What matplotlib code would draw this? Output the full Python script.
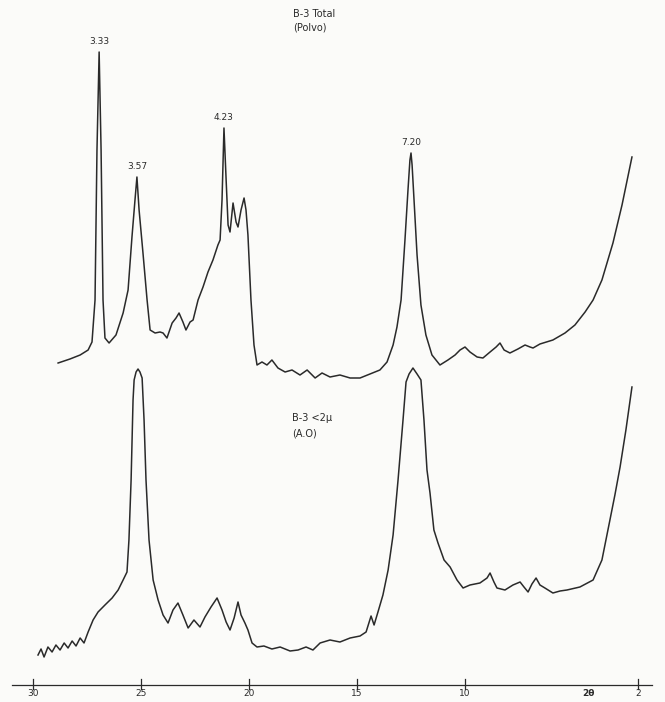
import matplotlib
matplotlib.use("Agg")
import matplotlib.pyplot as plt

# ---- Data: upper trace "B-3 Total (Polvo)" ----
top_2theta = [28.84, 28.29, 27.82, 27.45, 27.27, 27.13, 27.04, 26.94, 26.85, 26.76, 26.67, 26.48,
              26.16, 25.83, 25.60, 25.42, 25.28, 25.19, 25.09, 24.91, 24.72, 24.58, 24.35, 24.12,
              23.98, 23.80, 23.56, 23.38, 23.24, 23.06, 22.92, 22.73, 22.59, 22.36, 22.13, 21.90,
              21.67, 21.44, 21.34, 21.25, 21.16, 21.06, 20.97, 20.88, 20.74, 20.60, 20.51, 20.37,
              20.23, 20.14, 20.05, 19.91, 19.77, 19.63, 19.40, 19.17, 18.94, 18.66, 18.33, 18.01,
              17.64, 17.31, 16.94, 16.62, 16.25, 15.79, 15.32, 14.86, 14.40, 13.94, 13.61, 13.33,
              13.15, 12.96, 12.78, 12.64, 12.55, 12.50, 12.45, 12.36, 12.22, 12.04, 11.81, 11.53,
              11.16, 10.79, 10.46, 10.23, 10.00, 9.77, 9.44, 9.17, 8.84, 8.56, 8.38, 8.19,
              7.92, 7.55, 7.22, 6.99, 6.85, 6.53, 5.93, 5.37, 4.91, 4.44, 4.07, 3.66,
              3.15, 2.73, 2.27]
top_counts = [17, 21, 25, 30, 38, 80, 230, 328, 230, 80, 42, 37,
              45, 67, 90, 143, 180, 203, 170, 127, 80, 50, 47, 48,
              47, 42, 57, 62, 67, 58, 50, 58, 60, 80, 93, 108,
              120, 135, 140, 180, 252, 200, 155, 148, 177, 158, 153, 170,
              182, 170, 145, 80, 35, 15, 18, 15, 20, 12, 8, 10,
              5, 10, 2, 7, 3, 5, 2, 2, 6, 10, 18, 35,
              53, 80, 140, 190, 220, 227, 215, 180, 125, 75, 45, 25,
              15, 20, 25, 30, 33, 28, 23, 22, 28, 33, 37, 30,
              27, 31, 35, 33, 32, 36, 40, 47, 55, 68, 80, 100,
              137, 175, 223]

# ---- Data: lower trace "B-3 <2µ (A.O)" ----
bot_2theta = [29.77, 29.63, 29.49, 29.31, 29.12, 28.94, 28.75, 28.56, 28.38, 28.19, 28.01, 27.82,
              27.64, 27.45, 27.22, 26.99, 26.67, 26.34, 26.06, 25.83, 25.65, 25.56, 25.46, 25.37,
              25.32, 25.23, 25.14, 25.05, 24.95, 24.86, 24.77, 24.63, 24.44, 24.21, 23.98, 23.75,
              23.52, 23.29, 23.06, 22.82, 22.55, 22.27, 22.04, 21.76, 21.48, 21.25, 21.06, 20.88,
              20.69, 20.51, 20.37, 20.19, 20.05, 19.86, 19.63, 19.31, 18.94, 18.56, 18.10, 17.73,
              17.36, 17.04, 16.71, 16.25, 15.79, 15.32, 14.86, 14.58, 14.35, 14.21, 14.03, 13.80,
              13.56, 13.33, 13.10, 12.87, 12.73, 12.59, 12.41, 12.22, 12.04, 11.90, 11.76, 11.62,
              11.44, 11.25, 10.97, 10.69, 10.37, 10.09, 9.77, 9.31, 8.98, 8.84, 8.66, 8.52,
              8.15, 7.78, 7.45, 7.27, 7.08, 6.90, 6.71, 6.53, 6.30, 5.93, 5.60, 5.28,
              4.68, 4.07, 3.66, 3.29, 3.06, 2.82, 2.55, 2.27]
bot_counts = [5, 11, 3, 13, 8, 15, 10, 17, 12, 19, 14, 22,
              17, 28, 40, 48, 55, 62, 70, 80, 88, 120, 180, 260,
              280, 288, 291, 288, 282, 240, 180, 120, 80, 60, 45, 37,
              50, 57, 45, 32, 40, 33, 43, 53, 62, 50, 38, 30,
              42, 58, 45, 37, 30, 17, 13, 14, 11, 13, 9, 10,
              13, 10, 17, 20, 18, 22, 24, 28, 44, 35, 48, 65,
              90, 125, 180, 240, 278, 286, 292, 286, 280, 240, 190, 167,
              130, 117, 100, 93, 80, 72, 75, 77, 82, 87, 78, 72,
              70, 75, 78, 73, 68, 76, 82, 75, 72, 67, 69, 70,
              73, 80, 100, 140, 165, 193, 230, 273]

top_offset = 320
bot_offset = 40

top_peaks = [26.94, 25.19, 21.16, 12.50]
top_peak_labels = ["3.33", "3.57", "4.23", "7.20"]

tick_values = [30, 25, 20, 15, 10, 2]
tick_labels = ["30", "25", "20", "15", "10", "2"]

fig = plt.figure(figsize=(6.65, 7.02), dpi=100)
fig.patch.set_facecolor("#fbfbf9")
ax = fig.add_axes([0, 0, 1, 1])
ax.set_facecolor("#fbfbf9")
ax.set_xlim(31.53, 0.74)
ax.set_ylim(-2, 700)
ax.axis("off")

ink = "#2a2a2a"
ax.plot(top_2theta, [c + top_offset for c in top_counts], color=ink, lw=1.1, solid_joinstyle="round")
ax.plot(bot_2theta, [c + bot_offset for c in bot_counts], color=ink, lw=1.1, solid_joinstyle="round")

# peak d-spacing labels
for x, lab in zip(top_peaks, top_peak_labels):
    yv = top_counts[top_2theta.index(x)] + top_offset
    ax.text(x, yv + 6, lab, ha="center", va="bottom", fontsize=6.5, color=ink)

# titles
ax.text(17.96, 686, "B-3 Total", ha="left", va="center", fontsize=7, color=ink)
ax.text(17.96, 672, "(Polvo)", ha="left", va="center", fontsize=7, color=ink)
ax.text(18.0, 282, "B-3 <2\u00b5", ha="left", va="center", fontsize=7, color=ink)
ax.text(18.0, 266, "(A.O)", ha="left", va="center", fontsize=7, color=ink)

# bottom axis
axis_y = 15
ax.plot([30.97, 1.34], [axis_y, axis_y], color=ink, lw=0.9)
for t, lab in zip(tick_values, tick_labels):
    ax.plot([t, t], [axis_y - 4, axis_y + 6], color=ink, lw=0.9)
    ax.text(t, axis_y - 8, lab, ha="center", va="center", fontsize=6.5, color=ink)
ax.text(4.3, axis_y - 8, "2\u03b8", ha="center", va="center", fontsize=6.5, color=ink, fontweight="bold")

fig.savefig("out.png", dpi=100, facecolor=fig.get_facecolor())
